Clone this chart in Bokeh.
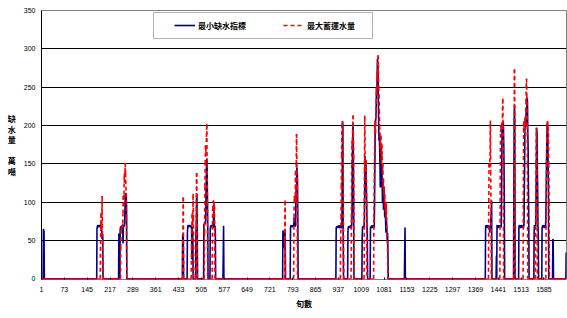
import numpy as np
from bokeh.plotting import figure
from bokeh.models import Range1d, FixedTicker, Legend, LegendItem, BoxAnnotation
from bokeh.embed import file_html
from bokeh.resources import INLINE

# ---------------- data ----------------
N_PERIODS = 1656  # number of 旬 (ten-day periods)
x_tick_values = [1, 73, 145, 217, 289, 361, 433, 505, 577, 649, 721, 793, 865,
                 937, 1009, 1081, 1153, 1225, 1297, 1369, 1441, 1513, 1585]
y_tick_values = [0, 50, 100, 150, 200, 250, 300, 350]
series_names = ["最小缺水指標", "最大蓄運水量"]
y_title = "缺\n水\n量\n\n萬\n噸"
x_title = "旬數"

# (first period index, consecutive values); every other period is 0
min_shortage_runs = [
    (7, [65, 63, 62]),
    (176, [66, 68, 69, 70, 67, 69, 70, 68, 69, 70, 67, 69, 68, 62, 66, 60, 52, 55, 58]),
    (245, [59]),
    (249, [64, 67, 68, 66, 69, 67, 68, 70, 66, 46, 67, 69, 68, 70, 72, 85, 111, 108, 112, 110, 95]),
    (446, [57, 58, 56]),
    (461, [60, 68, 69, 70, 67, 69, 70, 68, 69, 70, 67, 68, 69, 66, 25, 68, 65, 50]),
    (488, [62, 69, 111, 105, 70]),
    (513, [72, 70, 72, 71, 73, 72, 90, 120, 140, 157, 150, 110, 70]),
    (533, [66, 68, 69, 70, 67, 69, 68, 70, 69, 66, 69, 98, 95, 70, 68, 69, 60]),
    (574, [32, 69]),
    (762, [60, 63, 40, 63, 62, 58, 61, 63]),
    (786, [67, 69, 70, 68, 69, 67, 70, 69, 68, 69, 70, 80, 69, 70, 75, 68, 70, 100, 120, 110, 145, 140, 130, 80]),
    (930, [66, 68, 67, 69, 66, 68, 67, 69, 68, 70, 66, 67, 69, 68, 70, 67, 66, 69, 68, 120, 204, 198, 60]),
    (967, [60, 67, 68, 66, 69, 67, 68, 66, 67, 70, 69, 68, 72, 90, 150, 180, 203, 170, 100]),
    (1012, [55, 67, 68, 66, 69, 67, 68, 80, 120, 160, 155, 140, 150, 120, 100, 69, 60]),
    (1038, [66, 68, 67, 69, 66, 70, 68, 67, 69, 66, 68, 70, 67, 100, 150, 200, 205, 210, 220, 250,
            240, 260, 287, 280, 270, 230, 200, 180, 190, 170, 150, 119, 160, 176, 140, 120, 150, 119,
            100, 130, 110, 90, 100, 120, 98, 80, 100, 90, 70, 60, 80, 70, 60, 50, 60, 40]),
    (1146, [36, 67]),
    (1401, [68, 69, 70, 67, 69, 68, 66, 69, 70, 67, 68, 69, 66, 60, 68, 69, 70, 80, 90, 102]),
    (1435, [30]),
    (1437, [69, 70, 68, 67, 69, 66, 70, 68, 67, 69, 68, 70, 69, 67, 90, 150, 200, 202, 200, 205, 203, 180, 150, 100]),
    (1490, [110, 204, 226, 200]),
    (1506, [68, 69, 70, 67, 69, 68, 66, 70, 69, 68, 67, 69, 70, 68, 66, 69, 70, 110, 150, 200, 210, 198,
            205, 220, 200, 230, 236, 230, 191, 170, 120, 80]),
    (1554, [60, 70, 68, 69, 67, 70, 100, 150, 197, 190, 150, 120, 69, 60]),
    (1579, [66, 68, 69, 70, 67, 69, 68, 66, 70, 69, 67, 68, 80, 110, 150, 180, 200, 203, 191, 150, 124]),
    (1613, [52, 50]),
    (1655, [34, 34]),
]

max_storage_runs = [
    (187, [45, 70, 86, 55, 70, 108, 60]),
    (251, [40, 66, 68, 64, 67, 70, 72, 85, 108, 95, 110, 137, 125, 140, 151, 138, 120, 112, 80]),
    (447, [55, 106]),
    (474, [40, 60, 85, 70, 75, 111, 80]),
    (489, [70, 138, 90]),
    (515, [60, 120, 150, 174, 170, 160, 185, 202, 150, 100]),
    (540, [70, 95, 90, 102, 98, 80, 95, 60]),
    (768, [50, 102]),
    (797, [80, 108, 100, 105, 108, 140, 100, 150, 189, 150, 120]),
    (944, [50, 80, 120, 160, 197, 200, 206, 190, 130, 50]),
    (978, [80, 150, 180, 171, 200, 213, 190, 160]),
    (1019, [140, 213, 160, 150, 140, 155, 130, 100]),
    (1049, [80, 133, 160, 206, 200, 190, 210, 230, 250, 240, 270, 260, 285, 292, 280, 250, 240, 220,
            200, 190, 170, 180, 187, 160, 150, 176, 160, 140, 150, 120, 130, 110, 120, 100, 110, 98,
            90, 100, 80, 98, 70, 60, 50, 40]),
    (1411, [100, 150, 145, 152, 160, 206, 140, 102]),
    (1447, [120, 191, 196, 200, 198, 203, 200, 210, 235, 200, 150]),
    (1491, [150, 273, 200]),
    (1520, [100, 205, 200, 190, 200, 210, 205, 200, 230, 250, 261, 240, 200, 150]),
    (1559, [90, 150, 197, 180, 140]),
    (1592, [100, 150, 180, 200, 206, 200, 198, 190, 150, 100]),
]


def build_series(runs):
    y = np.zeros(N_PERIODS)
    for start, vals in runs:
        y[start - 1:start - 1 + len(vals)] = vals
    return y


periods = np.arange(1, N_PERIODS + 1)
min_shortage = build_series(min_shortage_runs)
max_storage = build_series(max_storage_runs)

# ---------------- layout ----------------
W, H = 567, 318
FL, FR, FT, FB = 41, 1, 10, 39          # frame borders in px
Y0, Y1 = -1, 350
frame_w = W - FL - FR
frame_h = H - FT - FB


def px_x(px):
    return 1 + (px - FL) * (N_PERIODS - 1) / frame_w


def px_y(py):
    return Y0 + (H - FB - py) * (Y1 - Y0) / frame_h


BLUE = "#000080"
RED = "#FF0000"
TICK_FONT = "Liberation Sans"
CJK_FONT = "Noto Sans CJK TC"

p = figure(width=W, height=H, output_backend="svg", toolbar_location=None,
           x_range=Range1d(1, N_PERIODS), y_range=Range1d(Y0, Y1),
           min_border_left=FL, min_border_right=FR, min_border_top=FT, min_border_bottom=FB)
p.background_fill_color = "white"
p.border_fill_color = "white"
p.outline_line_color = "#808080"
p.outline_line_width = 1

p.xgrid.visible = False
p.ygrid.ticker = FixedTicker(ticks=[t for t in y_tick_values if 0 < t < 350])
p.ygrid.grid_line_color = "black"
p.ygrid.grid_line_width = 1

p.yaxis.ticker = FixedTicker(ticks=y_tick_values)
p.yaxis.major_tick_in = 0
p.yaxis.major_tick_out = 0
p.yaxis.minor_tick_in = 0
p.yaxis.minor_tick_out = 0
p.yaxis.axis_line_color = "black"
p.yaxis.axis_line_width = 1
p.yaxis.major_label_text_font = TICK_FONT
p.yaxis.major_label_text_font_size = "7px"
p.yaxis.major_label_text_color = "black"
p.yaxis.major_label_standoff = 6
p.yaxis.axis_label = y_title
p.yaxis.axis_label_orientation = "horizontal"
p.yaxis.axis_label_standoff = 5
p.yaxis.axis_label_text_font = CJK_FONT
p.yaxis.axis_label_text_font_size = "8px"
p.yaxis.axis_label_text_font_style = "bold"
p.yaxis.axis_label_text_color = "black"
p.yaxis.axis_label_text_line_height = 0.95

p.xaxis.ticker = FixedTicker(ticks=x_tick_values)
p.xaxis.major_label_overrides = {v: str(v) for v in x_tick_values}
p.xaxis.axis_line_color = None
p.xaxis.major_tick_in = 2
p.xaxis.major_tick_out = 0
p.xaxis.minor_tick_in = 0
p.xaxis.minor_tick_out = 0
p.xaxis.major_tick_line_color = "black"
p.xaxis.major_label_text_font = TICK_FONT
p.xaxis.major_label_text_font_size = "7px"
p.xaxis.major_label_text_color = "black"
p.xaxis.major_label_standoff = 7
p.xaxis.axis_label = x_title
p.xaxis.axis_label_standoff = 3
p.xaxis.axis_label_text_font = CJK_FONT
p.xaxis.axis_label_text_font_size = "8px"
p.xaxis.axis_label_text_font_style = "bold"
p.xaxis.axis_label_text_color = "black"

# series
blue_r = p.line(periods, min_shortage, line_color=BLUE, line_width=1.6)
# dashed line drawn segment by segment (dash pattern restarts for every period)
red_r = p.segment(x0=periods[:-1], y0=max_storage[:-1], x1=periods[1:], y1=max_storage[1:],
                  line_color=RED, line_width=1.6, line_dash="4 3")

# legend box
box = BoxAnnotation(left=px_x(153), right=px_x(372), top=px_y(12), bottom=px_y(38),
                    fill_color="white", fill_alpha=1, line_color="black", line_width=1)
p.add_layout(box)

legend = Legend(items=[LegendItem(label=series_names[0], renderers=[blue_r]),
                       LegendItem(label=series_names[1], renderers=[red_r])],
                location=(174 - FL, (H - FB) - 31), orientation="horizontal",
                padding=0, margin=0, spacing=35, glyph_width=21, glyph_height=12,
                label_height=12, label_width=50, label_standoff=3,
                label_text_font=CJK_FONT, label_text_font_size="8px",
                label_text_font_style="bold", label_text_color="black",
                background_fill_alpha=0, border_line_color=None)
p.add_layout(legend)

open("out.html", "w").write(file_html(p, INLINE))
